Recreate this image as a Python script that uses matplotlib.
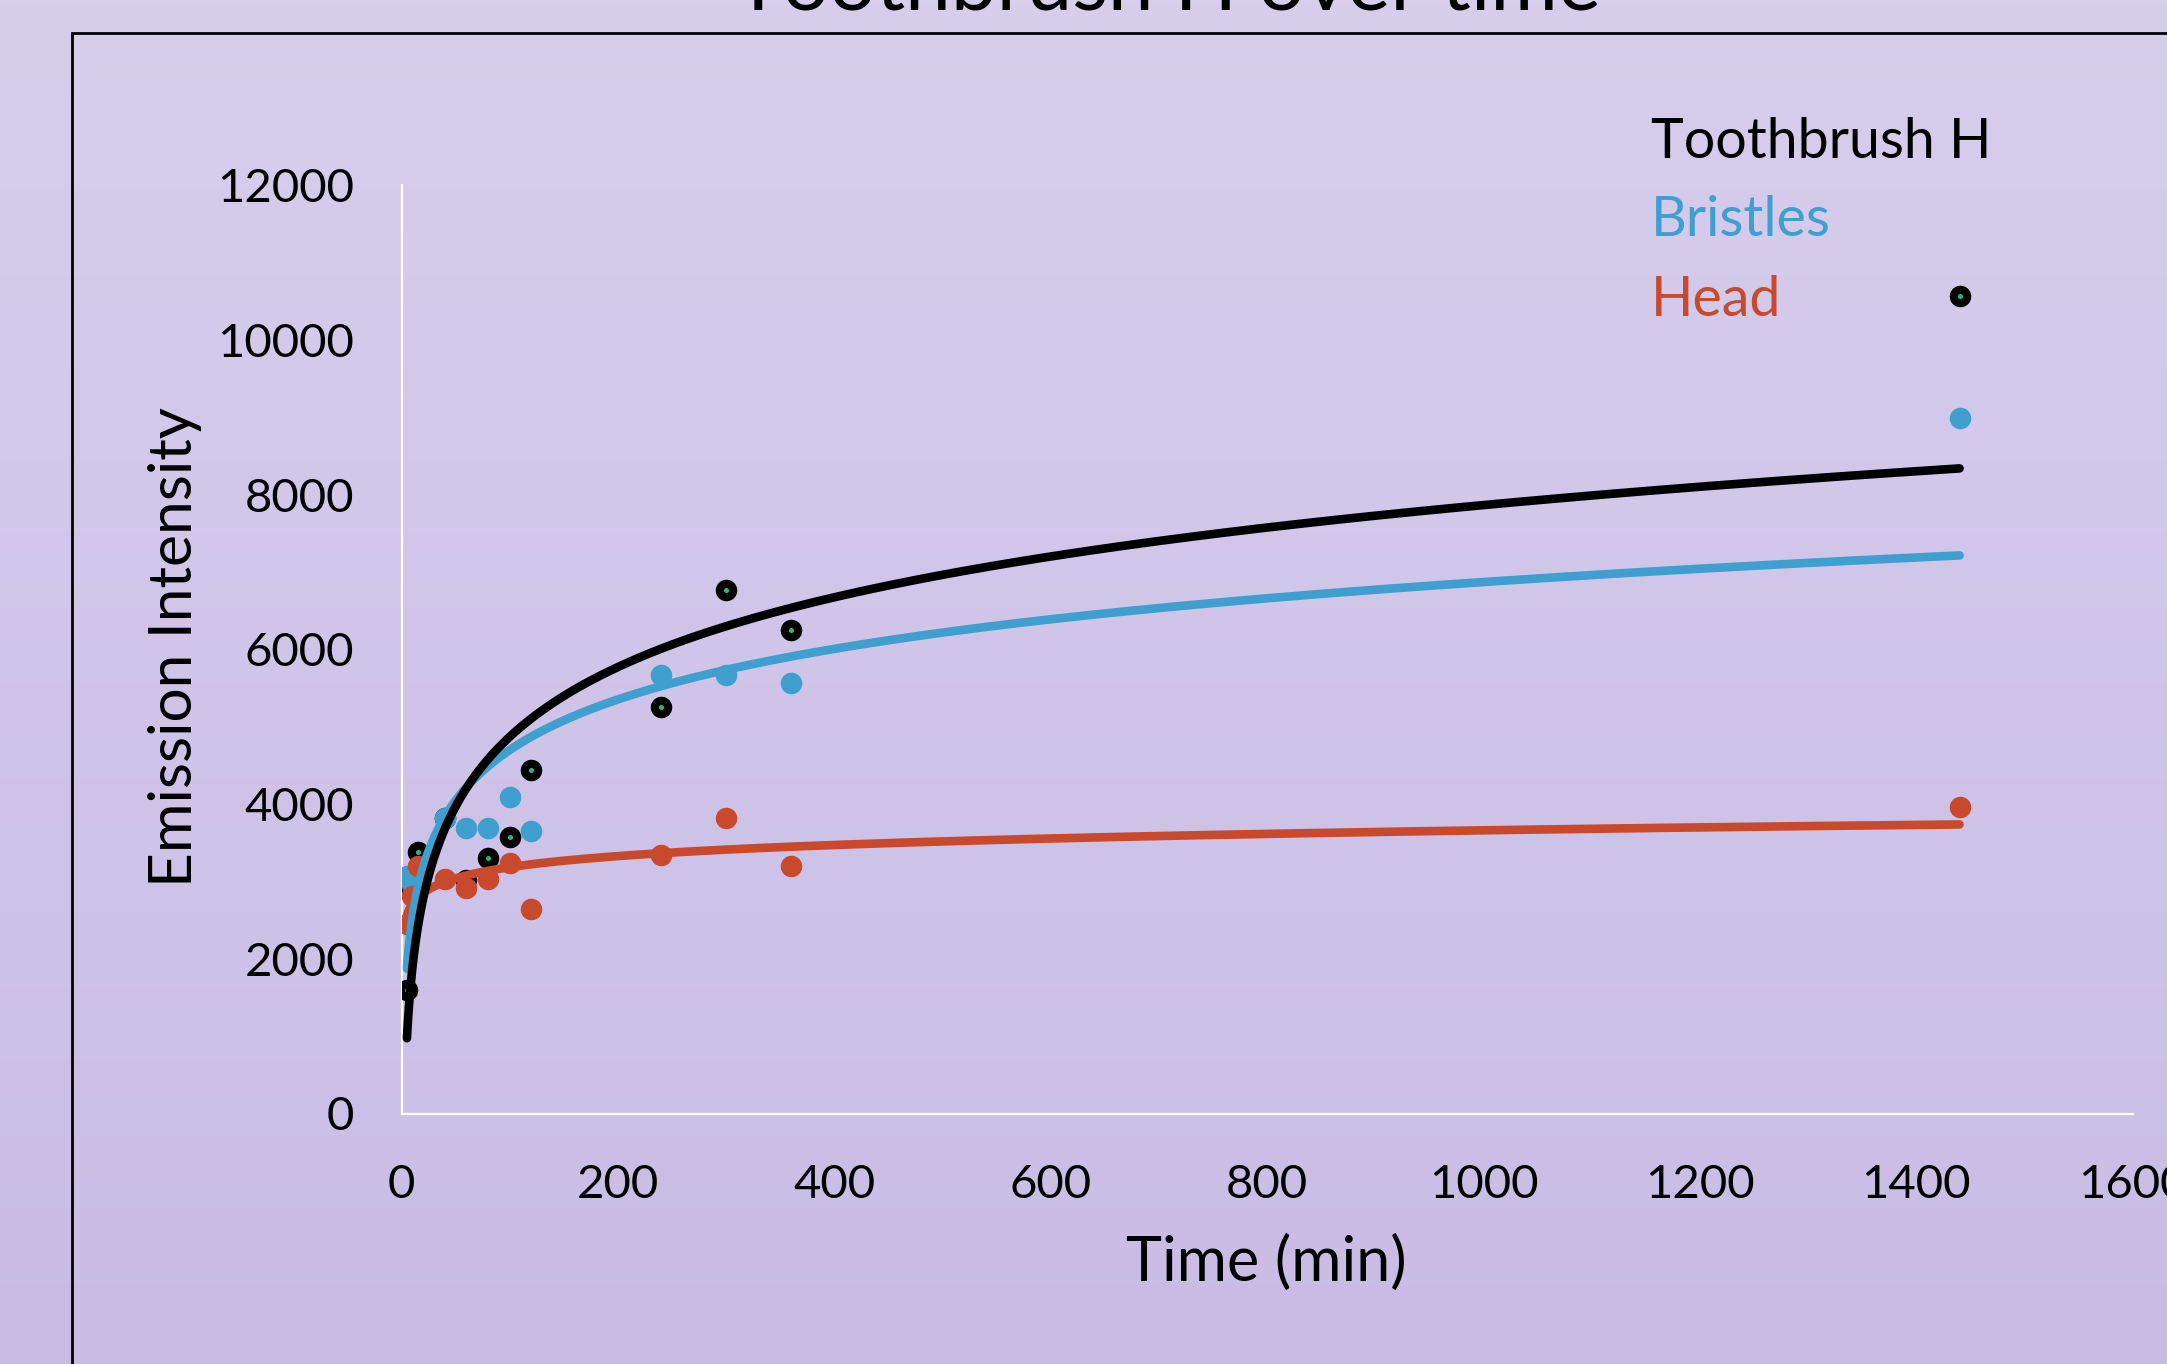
import numpy as np
import matplotlib
matplotlib.use("Agg")
import matplotlib.pyplot as plt
from matplotlib.patches import Rectangle

# ---- data ------------------------------------------------------------------
time_min = [5, 10, 15, 40, 60, 80, 100, 120, 240, 300, 360, 1440]
brush_y = [1590, 2900, 3380, 3820, 3020, 3300, 3570, 4440, 5260, 6770, 6250, 10560]
bristle_t = [5, 10, 40, 60, 80, 100, 120, 240, 300, 360, 1440]
bristle_y = [3070, 2970, 3820, 3690, 3690, 4090, 3650, 5670, 5670, 5570, 8990]
head_y = [2450, 2810, 3200, 3030, 2910, 3030, 3240, 2640, 3340, 3820, 3200, 3960]

series_names = ["Toothbrush H", "Bristles", "Head"]
x_ticks = [0, 200, 400, 600, 800, 1000, 1200, 1400, 1600]
y_ticks = [0, 2000, 4000, 6000, 8000, 10000, 12000]

BLACK, BLUE, RED, TEAL = "#000000", "#3F9FCF", "#C9492D", "#2BB38A"
FONT = "Lato"
plt.rcParams["font.family"] = [FONT, "DejaVu Sans"]

fig = plt.figure(figsize=(21.67, 13.64), dpi=100)

# lavender gradient background
bg = fig.add_axes([0, 0, 1, 1], zorder=-10)
grad = np.linspace(0, 1, 256)[:, None]
cmap = matplotlib.colors.LinearSegmentedColormap.from_list("bg", ["#D7CEEC", "#C8BCE5"])
bg.imshow(grad, aspect="auto", cmap=cmap, extent=[0, 1, 0, 1])
bg.set_axis_off()

# black frame of the slide placeholder (runs off right and bottom edge)
fig.patches.append(Rectangle((71.7 / 2167, -0.1), 1.2, 0.1 + 1 - 33.3 / 1364,
                             transform=fig.transFigure, fill=False,
                             edgecolor="black", lw=2.0))

ax = fig.add_axes([401.5 / 2167, 250.5 / 1364, 1731.2 / 2167, 928.5 / 1364])
ax.patch.set_alpha(0)
ax.set_xlim(0, 1600)
ax.set_ylim(0, 12000)
ax.set_xticks(x_ticks)
ax.set_yticks(y_ticks)
ax.tick_params(length=0, labelsize=34, pad=34)
ax.tick_params(axis="x", pad=36)
for s in ["top", "right"]:
    ax.spines[s].set_visible(False)
for s in ["left", "bottom"]:
    ax.spines[s].set_color("white")
    ax.spines[s].set_linewidth(1.6)


def log_trend(t, y):
    # Excel-style logarithmic trendline: y = a ln(t) + b
    t = np.asarray(t, float)
    a, b = np.polyfit(np.log(t), np.asarray(y, float), 1)
    tt = np.geomspace(t.min(), t.max(), 400)
    return tt, a * np.log(tt) + b


ms = 14.5
ax.plot(time_min, brush_y, "o", color=BLACK, ms=ms, zorder=3)
ax.plot(time_min, brush_y, "o", color=TEAL, ms=2.6, zorder=3.1)
ax.plot(bristle_t, bristle_y, "o", color=BLUE, ms=ms, zorder=4)
ax.plot(time_min, head_y, "o", color=RED, ms=ms, zorder=5)

for (t, y), c, z in [((time_min, head_y), RED, 6), ((bristle_t, bristle_y), BLUE, 7),
                     ((time_min, brush_y), BLACK, 8)]:
    tt, yy = log_trend(t, y)
    ax.plot(tt, yy, color=c, lw=6.2, solid_capstyle="round", zorder=z)

# legend as coloured text
for name, c, yp in zip(series_names, [BLACK, BLUE, RED], [142, 221, 301]):
    fig.text(1651 / 2167, 1 - yp / 1364, name, color=c, fontsize=40,
             ha="left", va="center")

fig.text(175 / 2167, 1 - 647 / 1364, "Emission Intensity", rotation=90,
         fontsize=43.5, ha="center", va="center")
fig.text(1266 / 2167, 1 - 1263 / 1364, "Time (min)", fontsize=44,
         ha="center", va="center")
fig.text(1168 / 2167, 1 - 10 / 1364, "Toothbrush H over time", fontsize=59,
         ha="center", va="baseline")

fig.savefig("out.png", dpi=100)
